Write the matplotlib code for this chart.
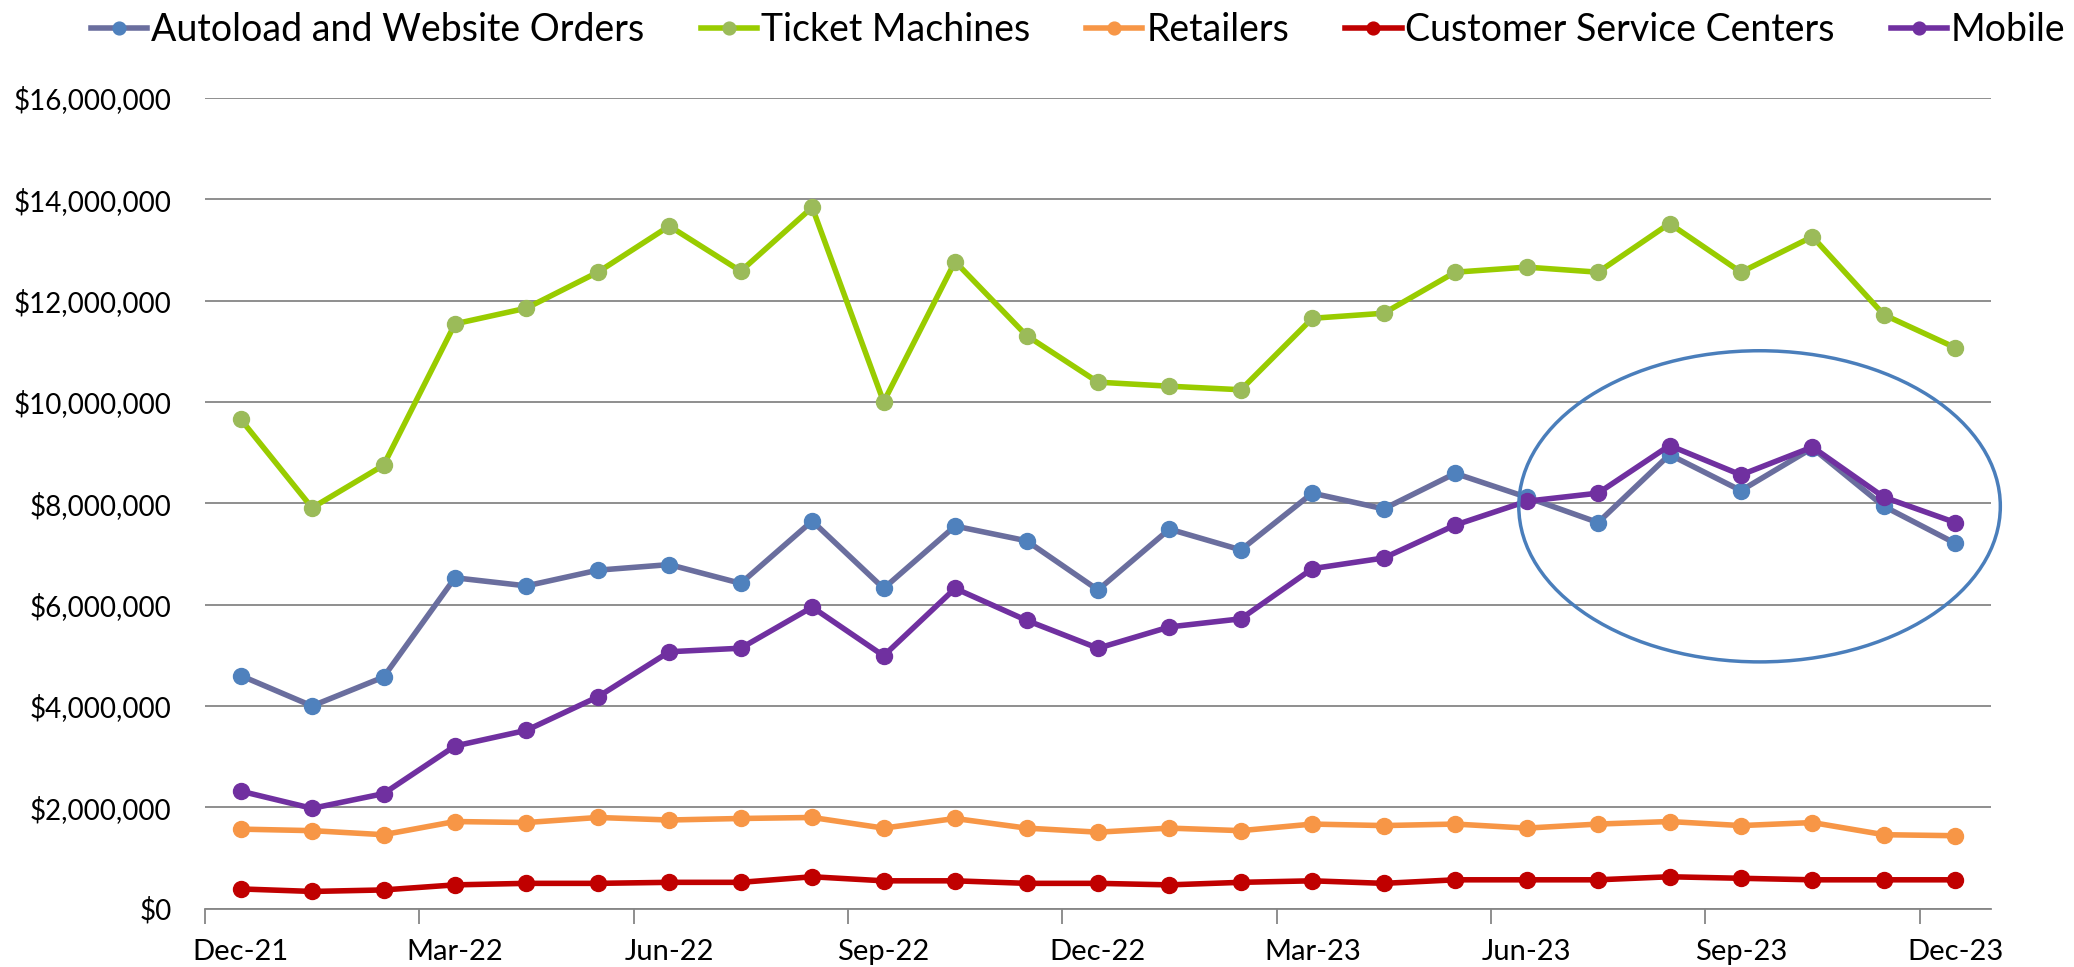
import numpy as np
import matplotlib
matplotlib.use('Agg')
import matplotlib.pyplot as plt
from matplotlib.patches import Ellipse
from matplotlib.ticker import FuncFormatter

# monthly sales by channel, Dec-21 .. Dec-23
months = ['Dec-21', 'Jan-22', 'Feb-22', 'Mar-22', 'Apr-22', 'May-22', 'Jun-22',
          'Jul-22', 'Aug-22', 'Sep-22', 'Oct-22', 'Nov-22', 'Dec-22', 'Jan-23',
          'Feb-23', 'Mar-23', 'Apr-23', 'May-23', 'Jun-23', 'Jul-23', 'Aug-23',
          'Sep-23', 'Oct-23', 'Nov-23', 'Dec-23']

autoload = [4.60, 4.00, 4.57, 6.53, 6.37, 6.68, 6.79, 6.42, 7.65, 6.32, 7.55, 7.26, 6.29,
            7.49, 7.08, 8.20, 7.89, 8.59, 8.12, 7.62, 8.96, 8.25, 9.09, 7.94, 7.21]
ticket_machines = [9.66, 7.91, 8.75, 11.54, 11.85, 12.56, 13.47, 12.58, 13.84, 10.00, 12.77,
                   11.31, 10.39, 10.31, 10.24, 11.65, 11.75, 12.56, 12.66, 12.56, 13.52,
                   12.56, 13.26, 11.72, 11.07]
retailers = [1.57, 1.54, 1.46, 1.72, 1.70, 1.80, 1.75, 1.78, 1.80, 1.59, 1.78, 1.59, 1.51,
             1.59, 1.54, 1.67, 1.64, 1.67, 1.59, 1.67, 1.72, 1.64, 1.70, 1.46, 1.44]
service_centers = [0.39, 0.34, 0.37, 0.47, 0.50, 0.50, 0.52, 0.52, 0.63, 0.55, 0.55, 0.50,
                   0.50, 0.47, 0.52, 0.55, 0.50, 0.57, 0.57, 0.57, 0.63, 0.60, 0.57, 0.57, 0.57]
mobile = [2.32, 1.98, 2.27, 3.21, 3.52, 4.18, 5.07, 5.14, 5.95, 4.99, 6.32, 5.69, 5.14,
          5.56, 5.72, 6.71, 6.92, 7.57, 8.04, 8.20, 9.14, 8.56, 9.11, 8.12, 7.62]

series = [
    ('Autoload and Website Orders', autoload, '#6A6E9E', '#4F81BD'),
    ('Ticket Machines', ticket_machines, '#99CC00', '#9BBB59'),
    ('Retailers', retailers, '#F79646', '#F79646'),
    ('Customer Service Centers', service_centers, '#C00000', '#C00000'),
    ('Mobile', mobile, '#7030A0', '#7030A0'),
]

x = np.arange(len(months))

plt.rcParams['font.family'] = ['Lato', 'DejaVu Sans']
fig = plt.figure(figsize=(20.74, 9.67), dpi=100)
ax = fig.add_axes([0.0988, 0.0603, 0.8612, 0.8385])

for name, vals, lc, mc in series:
    ax.plot(x, np.array(vals) * 1e6, color=lc, lw=4, marker='o', ms=11.5,
            mfc=mc, mec=mc, label=name, zorder=3)

# highlight circle round the last few months
ax.add_patch(Ellipse((21.26, 7.94e6), 6.74, 6.14e6, fill=False,
                     ec='#4A7EBB', lw=2.5, zorder=4, clip_on=False))

ax.set_xlim(-0.5, 24.5)
ax.set_ylim(0, 16e6)
ax.set_yticks(np.arange(0, 16.1e6, 2e6))
ax.yaxis.set_major_formatter(FuncFormatter(lambda v, p: '${:,.0f}'.format(v)))
ax.grid(axis='y', color='#868686', lw=1.3, zorder=0)
ax.set_axisbelow(True)
ax.tick_params(axis='y', length=0, pad=24, labelsize=20)

ax.set_xticks(np.arange(-0.5, 24, 3))
ax.set_xticklabels([])
ax.set_xticks(x[::3], minor=True)
ax.set_xticklabels(months[::3], minor=True)
ax.tick_params(axis='x', which='major', length=11, color='#868686', width=1.3, direction='out')
ax.tick_params(axis='x', which='minor', length=0, pad=22, labelsize=21)

for s in ['top', 'right', 'left']:
    ax.spines[s].set_visible(False)
ax.spines['bottom'].set_color('#868686')
ax.spines['bottom'].set_linewidth(1.3)

fig.legend(loc='upper center', bbox_to_anchor=(0.52, 1.022), ncol=5, frameon=False,
           prop={'size': 27}, handlelength=1.5, handletextpad=0.1, columnspacing=1.5,
           markerscale=0.8)

plt.savefig('out.png', dpi=100)
